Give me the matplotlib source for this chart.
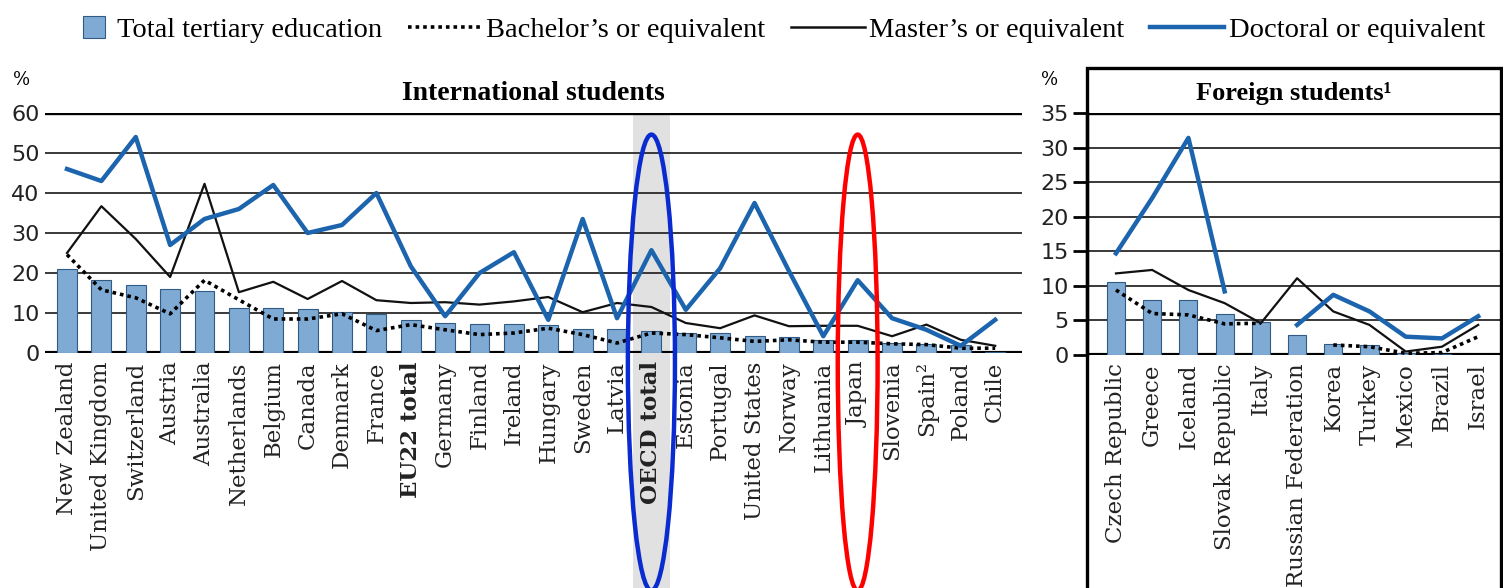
import numpy as np
import matplotlib
matplotlib.use("Agg")
import matplotlib.pyplot as plt
from matplotlib.lines import Line2D
from matplotlib.patches import Patch, Rectangle, Ellipse
from matplotlib.legend_handler import HandlerPatch
import matplotlib.transforms as mtransforms

# data (%)
cats_left = ['New Zealand', 'United Kingdom', 'Switzerland', 'Austria', 'Australia',
             'Netherlands', 'Belgium', 'Canada', 'Denmark', 'France', 'EU22 total',
             'Germany', 'Finland', 'Ireland', 'Hungary', 'Sweden', 'Latvia', 'OECD total',
             'Estonia', 'Portugal', 'United States', 'Norway', 'Lithuania', 'Japan',
             'Slovenia', 'Spain²', 'Poland', 'Chile']
total_left = [21.1, 18.3, 16.9, 16.0, 15.5, 11.3, 11.3, 10.9, 10.3, 9.7, 8.3, 7.5, 7.3, 7.3,
              6.9, 6.0, 6.0, 5.4, 5.0, 5.0, 4.3, 4.0, 3.3, 3.3, 2.5, 2.3, 2.1, 0.2]
bach_left = [24.6, 15.8, 13.8, 9.8, 18.2, 13.3, 8.5, 8.5, 9.8, 5.6, 7.1, 5.8, 4.6, 5.0,
             6.2, 4.6, 2.5, 5.0, 4.6, 3.8, 2.9, 3.3, 2.7, 2.7, 2.3, 2.1, 1.2, 1.2]
mast_left = [25.0, 36.7, 28.5, 19.0, 42.3, 15.2, 17.8, 13.5, 18.0, 13.2, 12.5, 12.7, 12.1, 12.9,
             14.0, 10.2, 12.5, 11.5, 7.5, 6.2, 9.4, 6.7, 6.8, 6.8, 4.2, 7.1, 3.3, 1.8]
doc_left = [46.0, 43.0, 54.0, 27.0, 33.5, 36.0, 42.0, 30.0, 32.0, 40.0, 21.7, 9.2, 20.0, 25.2,
            8.3, 33.5, 8.7, 25.7, 10.8, 21.2, 37.5, 20.5, 4.2, 18.2, 8.7, 5.8, 1.8, 8.3]

cats_right = ['Czech Republic', 'Greece', 'Iceland', 'Slovak Republic', 'Italy',
              'Russian Federation', 'Korea', 'Turkey', 'Mexico', 'Brazil', 'Israel']
total_right = [10.6, 8.0, 7.9, 5.9, 4.8, 2.9, 1.55, 1.45, 0.25, 0.15, 0.0]
bach_right = [9.4, 6.0, 5.8, 4.5, 4.6, np.nan, 1.45, 1.2, 0.25, 0.35, 2.65]
mast_right = [11.8, 12.3, 9.4, 7.5, 4.6, 11.1, 6.3, 4.35, 0.5, 1.2, 4.35]
doc_right = [14.7, 22.7, 31.4, 9.2, np.nan, 4.35, 8.7, 6.3, 2.65, 2.4, 5.6]

bar_col = '#7eaad4'
bar_edge = '#2f5b85'
blue = '#1c64ae'
grid_col = '#2a2a2a'
serif = 'DejaVu Serif'

W, H = 1503, 588
fig = plt.figure(figsize=(W / 100, H / 100), dpi=100)
ax1 = fig.add_axes([45 / W, 1 - 353 / H, (1022 - 45) / W, 240 / H])
ax2 = fig.add_axes([1087 / W, 1 - 355 / H, (1501 - 1087) / W, 242 / H])


def draw_panel(ax, cats, total, bach, mast, doc, ymax, step, bw):
    x = np.arange(len(cats))
    for y in np.arange(step, ymax, step):
        ax.axhline(y, color=grid_col, lw=1.3, zorder=1)
    ax.axhline(0, color='black', lw=3, zorder=2)
    ax.axhline(ymax, color='black', lw=2.4, zorder=2)
    ax.bar(x, total, width=bw, color=bar_col, edgecolor=bar_edge, linewidth=0.8, zorder=3)
    ax.plot(x, bach, color='black', lw=2.6, ls=(0, (1, 1.1)), zorder=4)
    ax.plot(x, mast, color='#111111', lw=1.6, zorder=5)
    ax.plot(x, doc, color=blue, lw=3.2, zorder=6)
    ax.set_ylim(0, ymax)
    ax.set_yticks(np.arange(0, ymax + 1, step))
    ax.set_xticks(x)
    ax.set_xticklabels(cats, rotation=90, family=serif, fontsize=16.5, color='#222222')
    ax.tick_params(axis='x', length=0, pad=6)
    ax.tick_params(axis='y', labelsize=16, labelcolor='#222222')
    for s in ax.spines.values():
        s.set_visible(False)


draw_panel(ax1, cats_left, total_left, bach_left, mast_left, doc_left, 60, 10, 0.58)
draw_panel(ax2, cats_right, total_right, bach_right, mast_right, doc_right, 35, 5, 0.5)
ax1.set_xlim(-0.64, len(cats_left) - 1 + 0.78)
ax2.set_xlim(-0.8, len(cats_right) - 1 + 0.63)

ax1.tick_params(axis='y', length=0, pad=4)
ax2.tick_params(axis='y', length=10, width=2, direction='out', pad=3)
ax2.spines['left'].set_visible(True)
ax2.spines['left'].set_linewidth(2.4)

for lab in ax1.get_xticklabels():
    if lab.get_text() in ('OECD total', 'EU22 total'):
        lab.set_fontweight('bold')

# grey band behind OECD total
oecd = cats_left.index('OECD total')
blend = mtransforms.blended_transform_factory(ax1.transData, ax1.transAxes)
ax1.add_patch(Rectangle((oecd - 0.55, -1.0), 1.1, 2.0, transform=blend,
                        color='#e1e1e1', zorder=0, clip_on=False, lw=0))

# hand-drawn style ellipses
ax1.add_patch(Ellipse((oecd, -0.04), 1.37, 1.9, transform=blend, fill=False,
                      edgecolor='#0a2bd0', lw=3.2, zorder=10, clip_on=False))
ax1.add_patch(Ellipse((cats_left.index('Japan'), -0.04), 1.16, 1.9, transform=blend,
                      fill=False, edgecolor='#ff0000', lw=3.2, zorder=10, clip_on=False))

# frame around the right panel
fig.add_artist(Rectangle((1087 / W, -0.01), (1501 - 1087) / W, 1 - 68 / H + 0.01,
                         transform=fig.transFigure, fill=False, lw=2.4, color='black'))

ax1.set_title('International students', family='Liberation Serif', fontweight='bold',
              fontsize=20, pad=9)
ax2.set_title('Foreign students¹', family='Liberation Serif', fontweight='bold',
              fontsize=19, pad=9)
fig.text(22 / W, 1 - 80 / H, '%', fontsize=13, ha='center', va='center', family=serif)
fig.text(1050 / W, 1 - 80 / H, '%', fontsize=13, ha='center', va='center', family=serif)


def square_patch(legend, orig_handle, xdescent, ydescent, width, height, fontsize):
    s = height * 1.1
    return Rectangle((width - s - 6, -ydescent + (height - s) / 2), s, s)


handles = [Patch(facecolor=bar_col, edgecolor=bar_edge, lw=0.8),
           Line2D([], [], color='black', lw=2.6, ls=(0, (1, 1.1))),
           Line2D([], [], color='#111111', lw=1.8),
           Line2D([], [], color=blue, lw=3.2)]
labels = ['Total tertiary education', 'Bachelor’s or equivalent',
          'Master’s or equivalent', 'Doctoral or equivalent']
fig.legend(handles, labels, loc='upper left', ncol=4, frameon=False,
           bbox_to_anchor=(22 / W, 1.0, 1480 / W, 0.0), mode='expand',
           prop={'family': 'Liberation Serif', 'size': 20.5},
           handler_map={Patch: HandlerPatch(patch_func=square_patch)},
           handlelength=2.6, handletextpad=0.15, borderaxespad=0.2)

fig.savefig('out.png', dpi=100)
